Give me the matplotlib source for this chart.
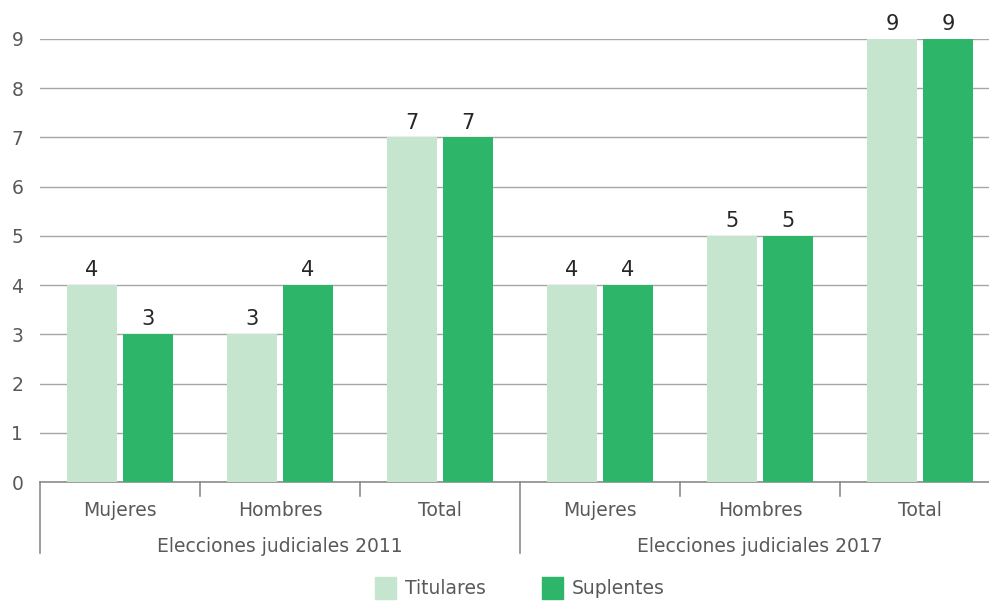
import numpy as np
import matplotlib.pyplot as plt
from matplotlib.patches import Patch

plt.rcParams["font.family"] = ["DejaVu Sans"]

groups = ["Elecciones judiciales 2011", "Elecciones judiciales 2017"]
categories = ["Mujeres", "Hombres", "Total", "Mujeres", "Hombres", "Total"]
titulares = [4, 3, 7, 4, 5, 9]
suplentes = [3, 4, 7, 4, 5, 9]

c_tit = "#c6e5cf"
c_sup = "#2db56a"
txt = "#595959"
axc = "#8c8c8c"

W, H = 989, 604
fig = plt.figure(figsize=(W / 100, H / 100), dpi=100)
# axes runs from x=40px to the right edge, y from 482px (0) to 39px (9)
ax = fig.add_axes([40 / W, 1 - 482 / H, (W - 40) / W, (482 - 39) / H])

x = np.arange(len(categories))
bw = 0.3125
off = 0.175
b1 = ax.bar(x - off, titulares, bw, color=c_tit, zorder=3)
b2 = ax.bar(x + off, suplentes, bw, color=c_sup, zorder=3)

for bars, vals in ((b1, titulares), (b2, suplentes)):
    for b, v in zip(bars, vals):
        ax.text(b.get_x() + b.get_width() / 2, v + 0.1, str(v), ha="center",
                va="bottom", fontsize=15, color="#262626", clip_on=False)

ax.set_xlim(-0.5, (W - 40) / 160 - 0.5)
ax.set_ylim(0, 9)
ax.set_yticks(range(10))
ax.tick_params(axis="y", length=0, labelsize=13.5, labelcolor=txt, pad=12)
ax.yaxis.grid(True, color="#a6a6a6", linewidth=1.0, zorder=0)
ax.set_xticks([])

for s in ("top", "right", "left"):
    ax.spines[s].set_visible(False)
ax.spines["bottom"].set_color(axc)
ax.spines["bottom"].set_linewidth(1.2)

trans = ax.get_xaxis_transform()
ypx = 1 / (482 - 39)
for i, lab in enumerate(categories):
    ax.text(i, -28 * ypx, lab, transform=trans, ha="center", va="center",
            fontsize=13.5, color=txt)
for i in range(len(categories) + 1):
    xb = i - 0.5
    long = i % 3 == 0
    ax.plot([xb, xb], [0, -(71 if long else 14) * ypx], transform=trans,
            color=axc, linewidth=1.2, clip_on=False)
for g, lab in enumerate(groups):
    ax.text(g * 3 + 1, -64 * ypx, lab, transform=trans, ha="center",
            va="center", fontsize=13.5, color=txt)

handles = [Patch(color=c_tit, label="Titulares"), Patch(color=c_sup, label="Suplentes")]
fig.legend(handles=handles, loc="center", bbox_to_anchor=(520 / W, 1 - 588 / H),
           ncol=2, frameon=False, fontsize=13.5, labelcolor=txt,
           handlelength=1.1, handleheight=1.5, handletextpad=0.5, columnspacing=3.0)

fig.savefig("out.png", dpi=100)
